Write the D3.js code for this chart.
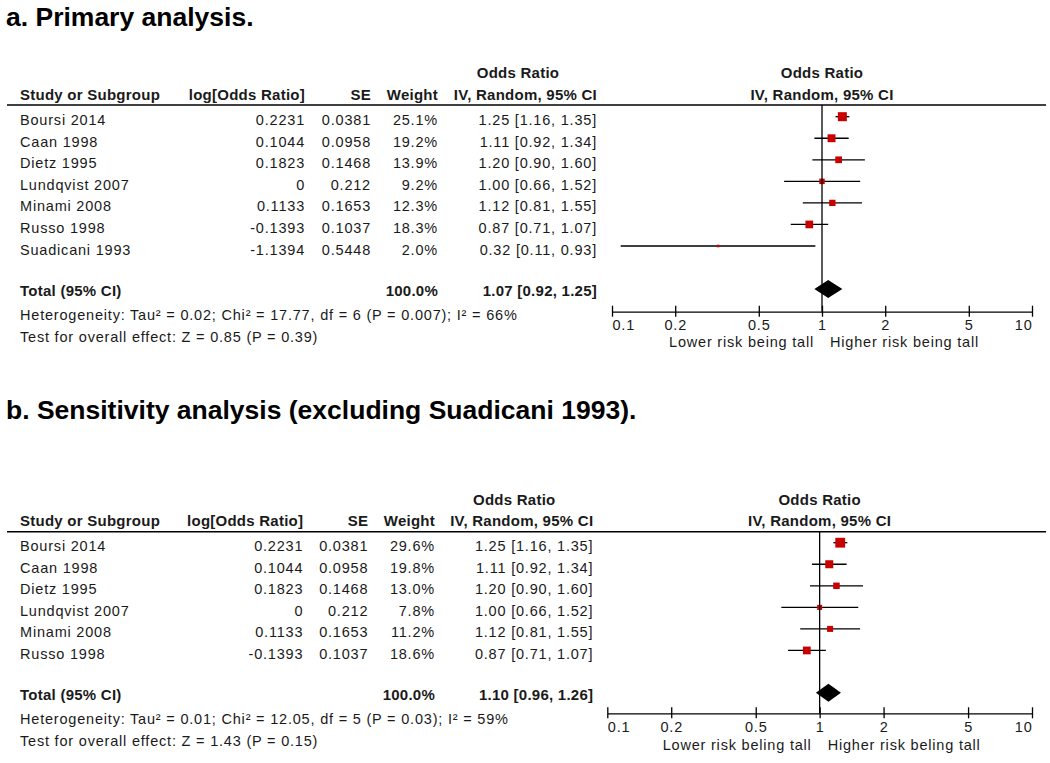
<!DOCTYPE html>
<html>
<head>
<meta charset="utf-8">
<script src="https://cdn.jsdelivr.net/npm/d3@7"></script>
<style>
body { margin: 0; background: #fff; }
svg text { font-family: "Liberation Sans", Arial, sans-serif; fill: #1a1a1a; }
.t { font-size: 14.5px; letter-spacing: 0.8px; }
.b { font-size: 15px; font-weight: bold; letter-spacing: 0.25px; }
.title { font-size: 26.5px; font-weight: bold; fill: #000; }
</style>
</head>
<body>
<svg id="chart" width="1050" height="763"></svg>
<script>
// panel a data
var studiesA = ["Boursi 2014", "Caan 1998", "Dietz 1995", "Lundqvist 2007", "Minami 2008", "Russo 1998", "Suadicani 1993"];
var logOrA = [0.2231, 0.1044, 0.1823, 0, 0.1133, -0.1393, -1.1394];
var seA = [0.0381, 0.0958, 0.1468, 0.212, 0.1653, 0.1037, 0.5448];
var weightA = [25.1, 19.2, 13.9, 9.2, 12.3, 18.3, 2.0];
var orA = [1.25, 1.11, 1.20, 1.00, 1.12, 0.87, 0.32];
var loA = [1.16, 0.92, 0.90, 0.66, 0.81, 0.71, 0.11];
var hiA = [1.35, 1.34, 1.60, 1.52, 1.55, 1.07, 0.93];
var totalA = [1.07, 0.92, 1.25];
var hetA = "Heterogeneity: Tau\u00b2 = 0.02; Chi\u00b2 = 17.77, df = 6 (P = 0.007); I\u00b2 = 66%";
var testA = "Test for overall effect: Z = 0.85 (P = 0.39)";

// panel b data (Suadicani dropped)
var studiesB = ["Boursi 2014", "Caan 1998", "Dietz 1995", "Lundqvist 2007", "Minami 2008", "Russo 1998"];
var logOrB = [0.2231, 0.1044, 0.1823, 0, 0.1133, -0.1393];
var seB = [0.0381, 0.0958, 0.1468, 0.212, 0.1653, 0.1037];
var weightB = [29.6, 19.8, 13.0, 7.8, 11.2, 18.6];
var orB = [1.25, 1.11, 1.20, 1.00, 1.12, 0.87];
var loB = [1.16, 0.92, 0.90, 0.66, 0.81, 0.71];
var hiB = [1.35, 1.34, 1.60, 1.52, 1.55, 1.07];
var totalB = [1.10, 0.96, 1.26];
var hetB = "Heterogeneity: Tau\u00b2 = 0.01; Chi\u00b2 = 12.05, df = 5 (P = 0.03); I\u00b2 = 59%";
var testB = "Test for overall effect: Z = 1.43 (P = 0.15)";

var axisTicks = [0.1, 0.2, 0.5, 1, 2, 5, 10];

var svg = d3.select("#chart");

// marker side grows with sqrt of weight
var sizeScale = d3.scaleSqrt().domain([0, 100]).range([0, 18]);

function fmt(v) { return v.toFixed(2); }

function drawPanel(p) {
    var g = svg.append("g");
    var n = p.studies.length;
    var step = 21.55;

    var x = d3.scaleLog().domain([0.1, 10]).range(p.xRange);
    var y = d3.scaleBand()
        .domain(p.studies)
        .range([p.row0 - step / 2, p.row0 - step / 2 + n * step]);

    var rows = p.studies.map(function(s, i) {
        return {name: s, logOr: p.logOr[i], se: p.se[i], w: p.weight[i],
                or: p.or[i], lo: p.lo[i], hi: p.hi[i]};
    });

    g.append("text").attr("class", "title")
        .attr("x", 6).attr("y", p.titleY).text(p.title);

    // column headers
    var hy = p.lineY - 5.5;
    g.append("text").attr("class", "b").attr("x", 20).attr("y", hy).text("Study or Subgroup");
    g.append("text").attr("class", "b").attr("x", p.cols.log).attr("y", hy)
        .attr("text-anchor", "end").text("log[Odds Ratio]");
    g.append("text").attr("class", "b").attr("x", p.cols.se).attr("y", hy)
        .attr("text-anchor", "end").text("SE");
    g.append("text").attr("class", "b").attr("x", p.cols.wt).attr("y", hy)
        .attr("text-anchor", "end").text("Weight");
    g.append("text").attr("class", "b").attr("x", p.cols.or).attr("y", hy)
        .attr("text-anchor", "end").text("IV, Random, 95% CI");
    g.append("text").attr("class", "b").attr("x", p.cols.or - 79).attr("y", hy - 21.5)
        .attr("text-anchor", "middle").text("Odds Ratio");
    g.append("text").attr("class", "b").attr("x", x(1)).attr("y", hy)
        .attr("text-anchor", "middle").text("IV, Random, 95% CI");
    g.append("text").attr("class", "b").attr("x", x(1)).attr("y", hy - 21.5)
        .attr("text-anchor", "middle").text("Odds Ratio");

    g.append("line")
        .attr("x1", 7).attr("x2", 1046)
        .attr("y1", p.lineY).attr("y2", p.lineY)
        .attr("stroke", "#000").attr("stroke-width", 1.6);

    // table rows
    var tr = g.selectAll("g.row").data(rows).enter().append("g").attr("class", "row");
    function cy(d) { return y(d.name) + step / 2; }
    tr.append("text").attr("class", "t").attr("x", 20)
        .attr("y", function(d) { return cy(d) + 8.5; })
        .text(function(d) { return d.name; });
    tr.append("text").attr("class", "t").attr("x", p.cols.log).attr("text-anchor", "end")
        .attr("y", function(d) { return cy(d) + 8.5; })
        .text(function(d) { return String(d.logOr); });
    tr.append("text").attr("class", "t").attr("x", p.cols.se).attr("text-anchor", "end")
        .attr("y", function(d) { return cy(d) + 8.5; })
        .text(function(d) { return String(d.se); });
    tr.append("text").attr("class", "t").attr("x", p.cols.wt).attr("text-anchor", "end")
        .attr("y", function(d) { return cy(d) + 8.5; })
        .text(function(d) { return d.w.toFixed(1) + "%"; });
    tr.append("text").attr("class", "t").attr("x", p.cols.or).attr("text-anchor", "end")
        .attr("y", function(d) { return cy(d) + 8.5; })
        .text(function(d) { return fmt(d.or) + " [" + fmt(d.lo) + ", " + fmt(d.hi) + "]"; });

    // reference line at OR = 1
    g.append("line")
        .attr("x1", x(1)).attr("x2", x(1))
        .attr("y1", p.lineY).attr("y2", p.axisY)
        .attr("stroke", "#000").attr("stroke-width", 1.3);

    // confidence intervals and weight squares
    tr.append("line")
        .attr("x1", function(d) { return x(d.lo); })
        .attr("x2", function(d) { return x(d.hi); })
        .attr("y1", cy).attr("y2", cy)
        .attr("stroke", "#000").attr("stroke-width", 1.3);
    tr.append("rect")
        .attr("x", function(d) { return x(d.or) - sizeScale(d.w) / 2; })
        .attr("y", function(d) { return cy(d) - sizeScale(d.w) / 2; })
        .attr("width", function(d) { return sizeScale(d.w); })
        .attr("height", function(d) { return sizeScale(d.w); })
        .attr("fill", "#c80000");

    // total row
    var tot = p.total;
    g.append("text").attr("class", "b").attr("x", 20).attr("y", p.diamondY + 7).text("Total (95% CI)");
    g.append("text").attr("class", "b").attr("x", p.cols.wt).attr("y", p.diamondY + 7)
        .attr("text-anchor", "end").text("100.0%");
    g.append("text").attr("class", "b").attr("x", p.cols.or).attr("y", p.diamondY + 7)
        .attr("text-anchor", "end")
        .text(fmt(tot[0]) + " [" + fmt(tot[1]) + ", " + fmt(tot[2]) + "]");
    var dy = p.diamondY;
    g.append("path")
        .attr("d", "M" + x(tot[1]) + "," + dy + "L" + x(tot[0]) + "," + (dy - 9) +
                   "L" + x(tot[2]) + "," + dy + "L" + x(tot[0]) + "," + (dy + 9) + "Z")
        .attr("fill", "#000");

    g.append("text").attr("class", "t").attr("x", 20).attr("y", p.diamondY + 31).text(p.het);
    g.append("text").attr("class", "t").attr("x", 20).attr("y", p.diamondY + 53).text(p.test);

    // log axis with ticks above and below the line
    var ax = g.append("g")
        .attr("transform", "translate(0," + p.axisY + ")")
        .call(d3.axisBottom(x).tickValues(axisTicks).tickSizeOuter(0).tickFormat(d3.format("")));
    ax.select(".domain").attr("stroke", "#000").attr("stroke-width", 1.3);
    ax.selectAll(".tick line").attr("y1", -6).attr("y2", 5).attr("stroke", "#000").attr("stroke-width", 1.3);
    ax.selectAll(".tick text")
        .attr("class", "t").attr("font-family", null).attr("font-size", null)
        .attr("y", 8.5).attr("fill", "#1a1a1a")
        .attr("text-anchor", function(d, i) {
            return i === 0 ? "start" : (i === axisTicks.length - 1 ? "end" : "middle");
        });

    g.append("text").attr("class", "t").attr("x", x(1) - 8).attr("y", p.riskY)
        .attr("text-anchor", "end").text(p.lowLabel);
    g.append("text").attr("class", "t").attr("x", x(1) + 8).attr("y", p.riskY)
        .text(p.highLabel);
}

drawPanel({
    title: "a. Primary analysis.", titleY: 26,
    studies: studiesA, logOr: logOrA, se: seA, weight: weightA,
    or: orA, lo: loA, hi: hiA, total: totalA, het: hetA, test: testA,
    lowLabel: "Lower risk being tall", highLabel: "Higher risk being tall",
    lineY: 105, row0: 116.7, diamondY: 289, axisY: 311.7, riskY: 347,
    xRange: [612, 1032],
    cols: {log: 305, se: 371, wt: 438, or: 597}
});

drawPanel({
    title: "b. Sensitivity analysis (excluding Suadicani 1993).", titleY: 419.3,
    studies: studiesB, logOr: logOrB, se: seB, weight: weightB,
    or: orB, lo: loB, hi: hiB, total: totalB, het: hetB, test: testB,
    lowLabel: "Lower risk beling tall", highLabel: "Higher risk beling tall",
    lineY: 531.7, row0: 542.7, diamondY: 692.7, axisY: 713.3, riskY: 750,
    xRange: [607.3, 1032],
    cols: {log: 303.3, se: 368.3, wt: 435, or: 593.3}
});
</script>
</body>
</html>
